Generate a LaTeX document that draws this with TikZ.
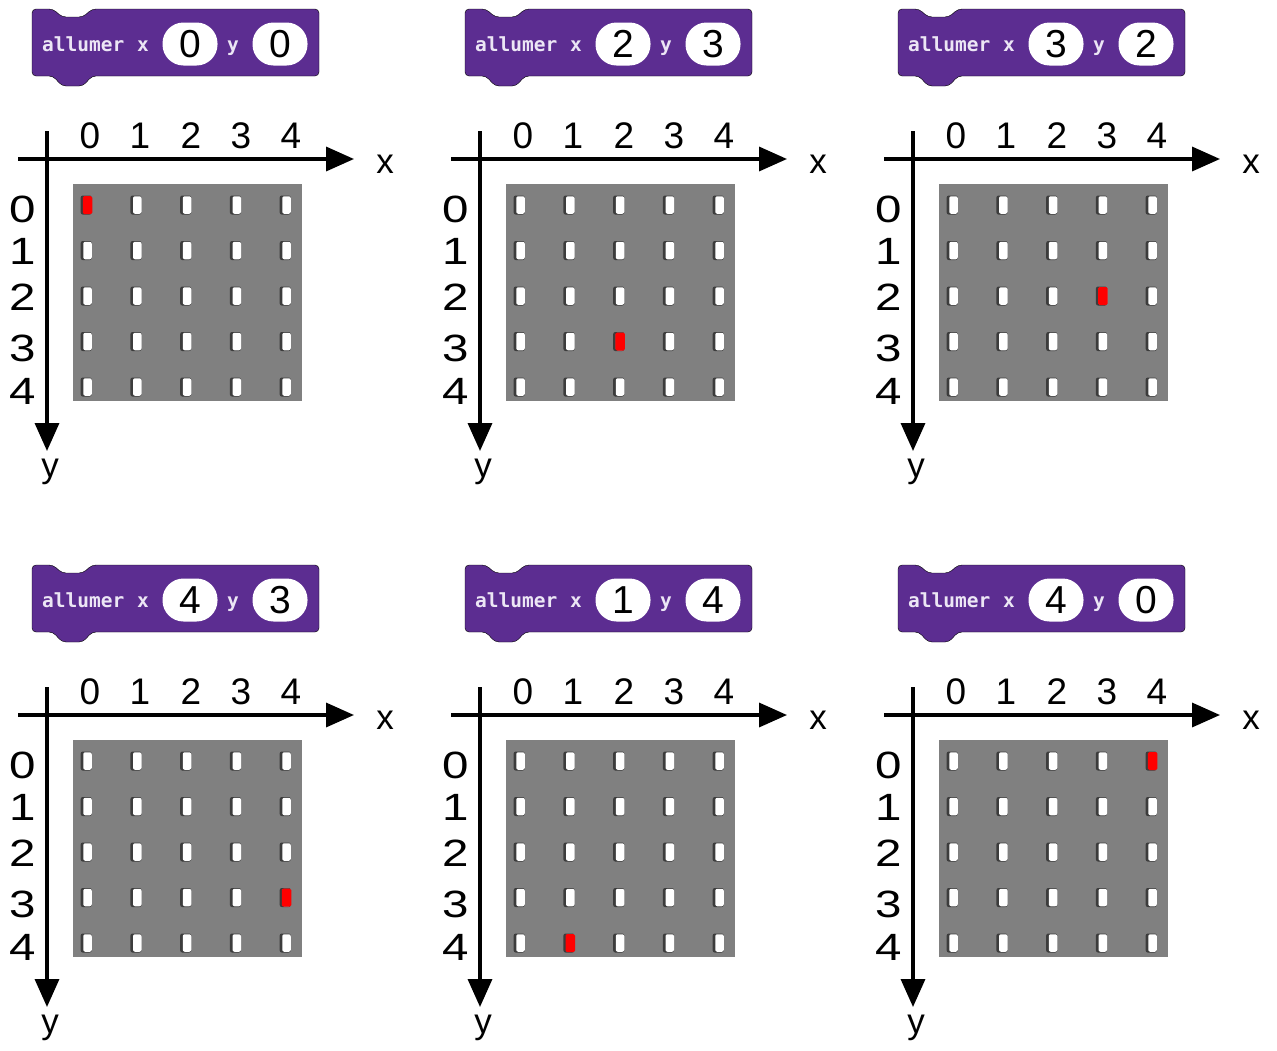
\documentclass[tikz,border=0pt]{standalone}
\usepackage{fontspec}
\setmainfont{Liberation Sans}
\newfontfamily\blockfont{DejaVu Sans Mono}
\usetikzlibrary{arrows.meta}
\definecolor{blockpurple}{RGB}{92,45,145}
\definecolor{blocktext}{RGB}{236,230,245}
\definecolor{boardgray}{RGB}{128,128,128}
\definecolor{ledshadow}{RGB}{60,60,60}
\tikzset{
  blockshape/.style={fill=blockpurple, rounded corners=4pt},
  blocktxt/.style={inner sep=0pt, text=blocktext, font=\blockfont\bfseries\fontsize{19.5}{19.5}\selectfont},
  oval/.style={fill=white, rounded corners=21pt, minimum width=55pt, minimum height=43pt, inner sep=0pt, font=\fontsize{39}{39}\selectfont},
  axisline/.style={line width=3.5pt, -{Triangle[length=28pt,width=24pt]}},
  ticklbl/.style={inner sep=0pt, font=\fontsize{37}{37}\selectfont},
  rowlbl/.style={inner sep=0pt, font=\fontsize{38}{38}\selectfont},
  axislbl/.style={inner sep=0pt, font=\fontsize{35}{35}\selectfont},
  board/.style={fill=boardgray, inner sep=0pt, minimum width=229pt, minimum height=217pt},
  ledshade/.style={fill=ledshadow, rounded corners=2pt, inner sep=0pt, minimum width=11pt, minimum height=19pt},
  ledon/.style={fill=white, rounded corners=2pt, inner sep=0pt, minimum width=8.5pt, minimum height=17.5pt},
  ledred/.style={fill=red, rounded corners=1.5pt, inner sep=0pt, minimum width=9.5pt, minimum height=18pt},
}
\newcommand\wide[1]{\scalebox{1.25}[1]{#1}}
\newcommand\drawpanel[5]{%
\begin{scope}[shift={(433*#2,556*#3)}]
  % block
  \draw[blockshape] (32,40) -- (32,9) -- (53,9) -- (62,17) -- (83,17) -- (92,9) -- (319,9)
     -- (319,76) -- (92,76) -- (83,86) -- (62,86) -- (53,76) -- (32,76) -- cycle;
  \node[blocktxt, anchor=base west] (al-#1) at (42,51) {allumer};
  \node[blocktxt, anchor=base] (bx-#1) at (143,51) {x};
  \node[oval] (ovx-#1) at (190,44) {#4};
  \node[blocktxt, anchor=base] (by-#1) at (233,51) {y};
  \node[oval] (ovy-#1) at (280,44) {#5};
  % board
  \node[board] (bd-#1) at (187.5,292.5) {};
  \foreach \i in {0,...,4}{
    \foreach \j in {0,...,4}{
      \node[ledshade] (ls-#1-\i-\j) at ({86.2+49.75*\i},{205+45.5*\j}) {};
      \node[ledon] (l-#1-\i-\j) at ({87.5+49.75*\i},{205+45.5*\j}) {};
    }
  }
  \node[ledred] (red-#1) at ({87.5+49.75*#4},{205+45.5*#5}) {};
  % axes
  \coordinate (xs-#1) at (18,159);
  \coordinate (xe-#1) at (354,159);
  \coordinate (ys-#1) at (47,131);
  \coordinate (ye-#1) at (47,451);
  \draw[axisline] (xs-#1) -- (xe-#1);
  \draw[axisline] (ys-#1) -- (ye-#1);
  \node[axislbl] (xl-#1) at (385,164) {x};
  \node[axislbl] (yl-#1) at (50,472) {y};
  \node[ticklbl] (cx-#1-0) at (90,135.5) {0};
  \node[ticklbl] (cx-#1-1) at (140,135.5) {1};
  \node[ticklbl] (cx-#1-2) at (191,135.5) {2};
  \node[ticklbl] (cx-#1-3) at (241,135.5) {3};
  \node[ticklbl] (cx-#1-4) at (291,135.5) {4};
  \node[rowlbl] (ry-#1-0) at (23,209) {\wide{0}};
  \node[rowlbl] (ry-#1-1) at (23,251) {\wide{1}};
  \node[rowlbl] (ry-#1-2) at (23,297) {\wide{2}};
  \node[rowlbl] (ry-#1-3) at (23,348) {\wide{3}};
  \node[rowlbl] (ry-#1-4) at (23,391) {\wide{4}};
\end{scope}}
\begin{document}
\begin{tikzpicture}[x=1pt,y=-1pt]
\useasboundingbox (0,0) rectangle (1277,1050);
\drawpanel{a}{0}{0}{0}{0}
\drawpanel{b}{1}{0}{2}{3}
\drawpanel{c}{2}{0}{3}{2}
\drawpanel{d}{0}{1}{4}{3}
\drawpanel{e}{1}{1}{1}{4}
\drawpanel{f}{2}{1}{4}{0}
\end{tikzpicture}
\end{document}
